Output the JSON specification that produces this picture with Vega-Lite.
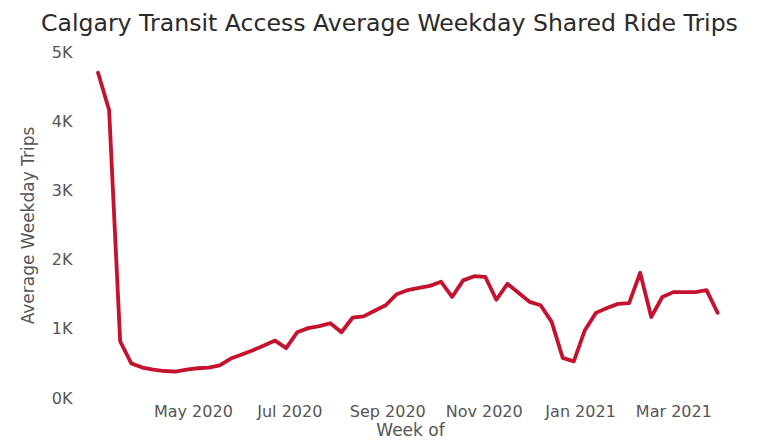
{
  "$schema": "https://vega.github.io/schema/vega-lite/v6.json",
  "width": 650,
  "height": 346,
  "autosize": {"type": "none"},
  "padding": {"left": 85, "top": 52, "right": 26, "bottom": 47},
  "background": "white",
  "title": {
    "text": "Calgary Transit Access Average Weekday Shared Ride Trips",
    "anchor": "start",
    "frame": "group",
    "dx": -44,
    "dy": 25,
    "offset": 14,
    "baseline": "alphabetic",
    "font": "DejaVu Sans",
    "fontSize": 23.6,
    "fontWeight": "normal",
    "color": "#2a2a2a"
  },
  "config": {
    "view": {"stroke": null},
    "axis": {"grid": false, "domain": false, "ticks": false}
  },
  "data": {
    "values": [
      {"week": "2020-03-02", "trips": 4700},
      {"week": "2020-03-09", "trips": 4160},
      {"week": "2020-03-16", "trips": 820},
      {"week": "2020-03-23", "trips": 500},
      {"week": "2020-03-30", "trips": 440},
      {"week": "2020-04-06", "trips": 410},
      {"week": "2020-04-13", "trips": 390},
      {"week": "2020-04-20", "trips": 380},
      {"week": "2020-04-27", "trips": 410},
      {"week": "2020-05-04", "trips": 430},
      {"week": "2020-05-11", "trips": 440},
      {"week": "2020-05-18", "trips": 470},
      {"week": "2020-05-25", "trips": 570},
      {"week": "2020-06-01", "trips": 630},
      {"week": "2020-06-08", "trips": 690},
      {"week": "2020-06-15", "trips": 760},
      {"week": "2020-06-22", "trips": 830},
      {"week": "2020-06-29", "trips": 720},
      {"week": "2020-07-06", "trips": 950},
      {"week": "2020-07-13", "trips": 1010},
      {"week": "2020-07-20", "trips": 1040},
      {"week": "2020-07-27", "trips": 1080},
      {"week": "2020-08-03", "trips": 950},
      {"week": "2020-08-10", "trips": 1160},
      {"week": "2020-08-17", "trips": 1180},
      {"week": "2020-08-24", "trips": 1260},
      {"week": "2020-08-31", "trips": 1340},
      {"week": "2020-09-07", "trips": 1500},
      {"week": "2020-09-14", "trips": 1560},
      {"week": "2020-09-21", "trips": 1590},
      {"week": "2020-09-28", "trips": 1620},
      {"week": "2020-10-05", "trips": 1680},
      {"week": "2020-10-12", "trips": 1460},
      {"week": "2020-10-19", "trips": 1700},
      {"week": "2020-10-26", "trips": 1760},
      {"week": "2020-11-02", "trips": 1750},
      {"week": "2020-11-09", "trips": 1420},
      {"week": "2020-11-16", "trips": 1650},
      {"week": "2020-11-23", "trips": 1520},
      {"week": "2020-11-30", "trips": 1390},
      {"week": "2020-12-07", "trips": 1340},
      {"week": "2020-12-14", "trips": 1100},
      {"week": "2020-12-21", "trips": 580},
      {"week": "2020-12-28", "trips": 530},
      {"week": "2021-01-04", "trips": 980},
      {"week": "2021-01-11", "trips": 1230},
      {"week": "2021-01-18", "trips": 1300},
      {"week": "2021-01-25", "trips": 1360},
      {"week": "2021-02-01", "trips": 1370},
      {"week": "2021-02-08", "trips": 1810},
      {"week": "2021-02-15", "trips": 1170},
      {"week": "2021-02-22", "trips": 1460},
      {"week": "2021-03-01", "trips": 1530},
      {"week": "2021-03-08", "trips": 1530},
      {"week": "2021-03-15", "trips": 1530},
      {"week": "2021-03-22", "trips": 1560},
      {"week": "2021-03-29", "trips": 1230}
    ]
  },
  "mark": {"type": "line", "color": "#C4122F", "strokeWidth": 3.8, "strokeJoin": "round", "strokeCap": "round"},
  "encoding": {
    "x": {
      "field": "week",
      "type": "temporal",
      "scale": {
        "type": "utc",
        "domain": [
          {"year": 2020, "month": 2, "date": 22, "hours": 18, "utc": true},
          {"year": 2021, "month": 4, "date": 9, "utc": true}
        ]
      },
      "axis": {
        "title": "Week of",
        "values": [
          {"year": 2020, "month": 5, "date": 1, "utc": true},
          {"year": 2020, "month": 7, "date": 1, "utc": true},
          {"year": 2020, "month": 9, "date": 1, "utc": true},
          {"year": 2020, "month": 11, "date": 1, "utc": true},
          {"year": 2021, "month": 1, "date": 1, "utc": true},
          {"year": 2021, "month": 3, "date": 1, "utc": true}
        ],
        "labelExpr": "utcFormat(datum.value, '%b %Y')",
        "labelFont": "DejaVu Sans",
        "labelFontSize": 16,
        "labelColor": "#555555",
        "labelPadding": 5,
        "labelOverlap": false,
        "titleFont": "DejaVu Sans",
        "titleFontSize": 17,
        "titleFontWeight": "normal",
        "titleColor": "#555555",
        "titlePadding": 3
      }
    },
    "y": {
      "field": "trips",
      "type": "quantitative",
      "scale": {"domain": [0, 5000], "nice": false},
      "axis": {
        "title": "Average Weekday Trips",
        "values": [0, 1000, 2000, 3000, 4000, 5000],
        "labelExpr": "datum.value / 1000 + 'K'",
        "labelFont": "DejaVu Sans",
        "labelFontSize": 16,
        "labelColor": "#555555",
        "labelPadding": 13,
        "titleFont": "DejaVu Sans",
        "titleFontSize": 17,
        "titleFontWeight": "normal",
        "titleColor": "#555555",
        "titlePadding": 14
      }
    }
  }
}
